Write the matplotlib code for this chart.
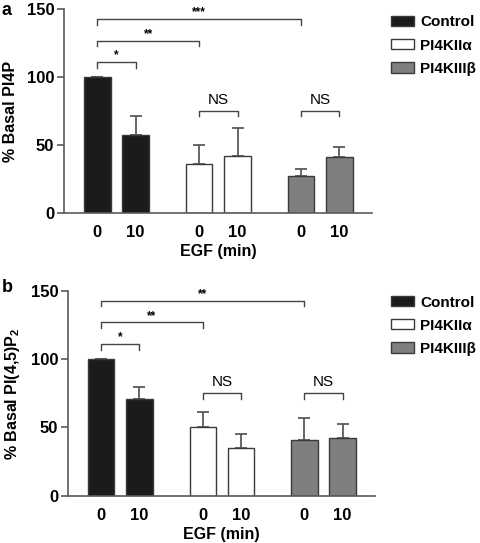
import matplotlib
matplotlib.use("Agg")
import matplotlib.pyplot as plt
from matplotlib.patches import Patch

plt.rcParams["font.family"] = ["Liberation Sans", "DejaVu Sans"]
plt.rcParams["mathtext.fontset"] = "custom"
plt.rcParams["mathtext.rm"] = "Liberation Sans"
plt.rcParams["mathtext.bf"] = "Liberation Sans:bold"

# data
groups = ["Control", "PI4KII\u03b1", "PI4KIII\u03b2"]
time_labels = ["0", "10", "0", "10", "0", "10"]
pi4p_mean = [100, 57.3, 36.1, 42, 27.3, 41]
pi4p_err = [0, 14, 14, 20.4, 4.7, 7.6]
pip2_mean = [100, 71, 50.4, 34.8, 41, 42.5]
pip2_err = [0, 8.5, 11, 10.7, 16, 10]

# brackets: (bar i, bar j, height, label)
pi4p_sig = [(0, 1, 111, "*"), (0, 2, 126.6, "**"), (0, 4, 142.7, "***"),
            (2, 3, 75, "NS"), (4, 5, 75, "NS")]
pip2_sig = [(0, 1, 111, "*"), (0, 2, 127, "**"), (0, 4, 143, "**"),
            (2, 3, 75, "NS"), (4, 5, 75, "NS")]

colors = ["#1b1b1b", "#1b1b1b", "white", "white", "#7f7f7f", "#7f7f7f"]
xpos = [0, 1, 2.66, 3.66, 5.32, 6.32]
edge = "#3a3a3a"
axis_col = "#5a5a5a"


def draw_panel(fig, ax, means, errs, sigs, ylabel, letter, letter_y, leg_top):
    ax.errorbar(xpos, means, yerr=[[0] * len(errs), errs], fmt="none",
                ecolor="#5a5a5a", elinewidth=1.3, capsize=4.2, capthick=1.3,
                zorder=1)
    ax.bar(xpos, means, width=0.69, color=colors, edgecolor=edge,
           linewidth=1.0, zorder=2)
    for i, j, h, lab in sigs:
        x1, x2 = xpos[i], xpos[j]
        ax.plot([x1, x1, x2, x2], [h - 4, h, h, h - 4], color="#444444",
                lw=1.0, zorder=3)
        if lab == "NS":
            ax.text((x1 + x2) / 2, h + 3, lab, ha="center", va="bottom",
                    fontsize=11)
        else:
            ax.text((x1 + x2) / 2, h + 0.5, lab, ha="center", va="bottom",
                    fontsize=8.5, fontweight="bold")
    ax.set_xlim(-0.87, 7.17)
    ax.set_ylim(0, 150)
    ax.set_yticks([0, 50, 100, 150])
    ax.set_xticks(xpos)
    ax.set_xticklabels(time_labels)
    for s in ["top", "right"]:
        ax.spines[s].set_visible(False)
    for s in ["left", "bottom"]:
        ax.spines[s].set_color(axis_col)
        ax.spines[s].set_linewidth(1.2)
    ax.tick_params(axis="y", direction="out", length=5, width=1.2,
                   color=axis_col, pad=2, labelsize=12)
    ax.tick_params(axis="x", length=0, pad=9, labelsize=12)
    for t in ax.get_xticklabels() + ax.get_yticklabels():
        t.set_fontweight("bold")
    ax.set_xlabel("EGF (min)", fontsize=11.5, fontweight="bold", labelpad=3)
    ax.set_ylabel(ylabel, fontsize=11.5, fontweight="bold", labelpad=6)
    fig.text(0.004, letter_y, letter, fontsize=13, fontweight="bold",
             ha="left", va="top")

    handles = [Patch(facecolor=c, edgecolor=edge, linewidth=1.0)
               for c in ["#1b1b1b", "white", "#7f7f7f"]]
    ax.legend(handles, groups, loc="upper left",
              bbox_to_anchor=(391 / 481, leg_top),
              bbox_transform=fig.transFigure, frameon=False,
              handlelength=1.5, handleheight=0.65, handletextpad=0.4,
              labelspacing=0.6, borderpad=0, borderaxespad=0,
              prop={"weight": "bold", "size": 11})


fig = plt.figure(figsize=(4.81, 5.43), dpi=100)
ax_a = fig.add_axes([0.1331, 0.6083, 0.6403, 0.3746])
ax_b = fig.add_axes([0.1414, 0.0871, 0.6383, 0.3770])

draw_panel(fig, ax_a, pi4p_mean, pi4p_err, pi4p_sig, "% Basal PI4P", "a",
           0.997, 0.9715)
draw_panel(fig, ax_b, pip2_mean, pip2_err, pip2_sig,
           r"% Basal PI(4,5)P$_\mathbf{2}$", "b", 0.487, 0.4558)

fig.savefig("out.png", dpi=100)
